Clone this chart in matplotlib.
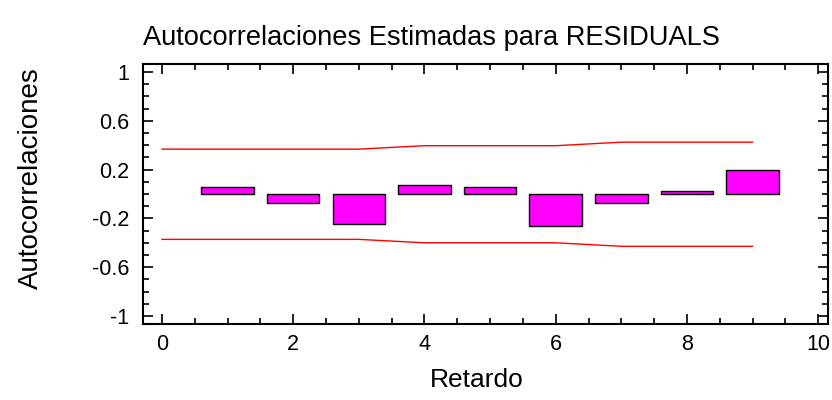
import matplotlib
matplotlib.use('Agg')
import matplotlib.pyplot as plt
from matplotlib.ticker import MultipleLocator, FixedLocator

plt.rcParams['font.family'] = ['Liberation Sans', 'DejaVu Sans']

lags = [1, 2, 3, 4, 5, 6, 7, 8, 9]
acf = [0.058, -0.075, -0.245, 0.07, 0.058, -0.26, -0.075, 0.028, 0.2]
limit_lags = [0, 1, 2, 3, 4, 5, 6, 7, 8, 9]
upper = [0.368, 0.368, 0.368, 0.368, 0.396, 0.396, 0.396, 0.425, 0.425, 0.425]
lower = [-0.372, -0.372, -0.372, -0.372, -0.4, -0.4, -0.4, -0.429, -0.429, -0.429]

fig = plt.figure(figsize=(8.32, 4.0), dpi=100)
ax = fig.add_axes([143 / 832, 1 - 324 / 400, (828 - 143) / 832, (324 - 64) / 400])

ax.bar(lags, acf, width=0.8, color='#ff00ff', edgecolor='black', linewidth=1.0, zorder=2)
ax.plot(limit_lags, upper, color='#ff0000', linewidth=1.0, zorder=3)
ax.plot(limit_lags, lower, color='#ff0000', linewidth=1.0, zorder=3)

ax.set_xlim(-0.29, 10.15)
ax.set_ylim(-1.066, 1.066)
ax.xaxis.set_major_locator(MultipleLocator(2))
ax.xaxis.set_minor_locator(MultipleLocator(0.5))
ax.yaxis.set_major_locator(FixedLocator([-1, -0.6, -0.2, 0.2, 0.6, 1]))
ax.yaxis.set_minor_locator(FixedLocator([i / 10 for i in range(-10, 11)]))
ax.set_yticklabels(['-1', '-0.6', '-0.2', '0.2', '0.6', '1'])

ax.tick_params(which='both', direction='in', top=True, right=True, width=1.2, labelsize=15.5)
ax.tick_params(which='major', length=7)
ax.tick_params(which='minor', length=4)
ax.tick_params(axis='x', pad=7)
ax.tick_params(axis='y', pad=10)
for s in ax.spines.values():
    s.set_linewidth(1.5)

ax.set_title('Autocorrelaciones Estimadas para RESIDUALS', fontsize=19.6, loc='left', x=0.0, pad=14)
ax.set_xlabel('Retardo', fontsize=19)
ax.set_ylabel('Autocorrelaciones', fontsize=20)
ax.xaxis.set_label_coords(0.4876, -0.168)
ax.yaxis.set_label_coords(-0.1445, 0.56)

fig.savefig('out.png', dpi=100)
